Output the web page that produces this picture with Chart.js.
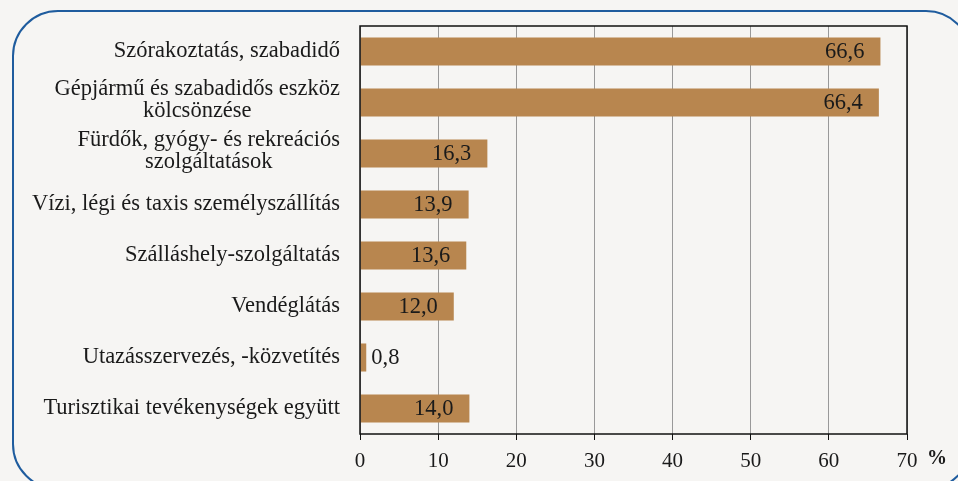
<!DOCTYPE html>
<html>
<head>
<meta charset="utf-8">
<script src="https://cdn.jsdelivr.net/npm/chart.js@4.4.1/dist/chart.umd.min.js"></script>
<style>
  html, body { margin: 0; padding: 0; background: #f6f5f3; }
  .wrap { position: relative; width: 958px; height: 481px; overflow: hidden; }
  .frame {
    position: absolute; left: 12px; top: 10px; width: 960px; height: 480px;
    border: 2px solid #1f5c9e; border-radius: 46px; box-sizing: border-box;
  }
  canvas { position: absolute; left: 0; top: 0; }
</style>
</head>
<body>
<div class="wrap">
  <div class="frame"></div>
  <canvas id="barChart" width="958" height="481"></canvas>
</div>
<script>
const categories = [
  ['Szórakoztatás, szabadidő'],
  ['Gépjármű és szabadidős eszköz', 'kölcsönzése'],
  ['Fürdők, gyógy- és rekreációs', 'szolgáltatások'],
  ['Vízi, légi és taxis személyszállítás'],
  ['Szálláshely-szolgáltatás'],
  ['Vendéglátás'],
  ['Utazásszervezés, -közvetítés'],
  ['Turisztikai tevékenységek együtt']
];
const values = [66.6, 66.4, 16.3, 13.9, 13.6, 12.0, 0.8, 14.0];
const xTicks = [0, 10, 20, 30, 40, 50, 60, 70];

const FONT = '"Liberation Serif", "DejaVu Serif", serif';
const fmt = v => v.toFixed(1).replace('.', ',');

// category labels (centered lines, block right-aligned) + value labels + frame
const drawExtras = {
  id: 'drawExtras',
  afterDatasetsDraw(chart) {
    const { ctx, chartArea: ca, scales } = chart;
    const meta = chart.getDatasetMeta(0);
    ctx.save();
    ctx.font = '22.5px ' + FONT;
    ctx.fillStyle = '#1a1a1a';
    ctx.textBaseline = 'middle';

    categories.forEach((lines, i) => {
      const yc = scales.y.getPixelForValue(i);
      const w = Math.max(...lines.map(l => ctx.measureText(l).width));
      const right = ca.left - 20;
      const lh = 22;
      const y0 = yc - (lines.length - 1) * lh / 2 - (lines.length > 1 ? 2 : 0);
      ctx.textAlign = 'center';
      lines.forEach((l, k) => ctx.fillText(l, right - w / 2, y0 + k * lh));
    });

    meta.data.forEach((bar, i) => {
      const txt = fmt(values[i]);
      if (bar.x - bar.base > 40) {
        ctx.textAlign = 'right';
        ctx.fillText(txt, bar.x - 16, bar.y + 1);
      } else {
        ctx.textAlign = 'left';
        ctx.fillText(txt, bar.x + 5, bar.y + 1);
      }
    });

    // plot frame
    ctx.strokeStyle = '#111';
    ctx.lineWidth = 1.5;
    ctx.strokeRect(ca.left, ca.top, ca.right - ca.left, ca.bottom - ca.top);

    ctx.font = 'bold 20px ' + FONT;
    ctx.textAlign = 'left';
    ctx.fillText('%', ca.right + 20, 459);
    ctx.restore();
  }
};

new Chart(document.getElementById('barChart'), {
  type: 'bar',
  data: {
    labels: categories.map(c => c.join(' ')),
    datasets: [{
      data: values,
      backgroundColor: '#b8864f',
      barPercentage: 0.55,
      categoryPercentage: 1.0
    }]
  },
  options: {
    indexAxis: 'y',
    responsive: false,
    animation: false,
    layout: { padding: { left: 360, right: 51, top: 26, bottom: 0 } },
    plugins: { legend: { display: false }, tooltip: { enabled: false } },
    scales: {
      y: { display: false },
      x: {
        min: 0, max: 70,
        afterBuildTicks: s => { s.ticks = xTicks.map(v => ({ value: v })); },
        afterFit: s => { s.height = 47; },
        grid: { color: '#999', lineWidth: 1, tickColor: '#111', tickLength: 6, drawOnChartArea: true },
        border: { display: false },
        ticks: { font: { family: FONT, size: 21 }, color: '#1a1a1a', padding: 9, maxRotation: 0 }
      }
    }
  },
  plugins: [drawExtras]
});
</script>
</body>
</html>
